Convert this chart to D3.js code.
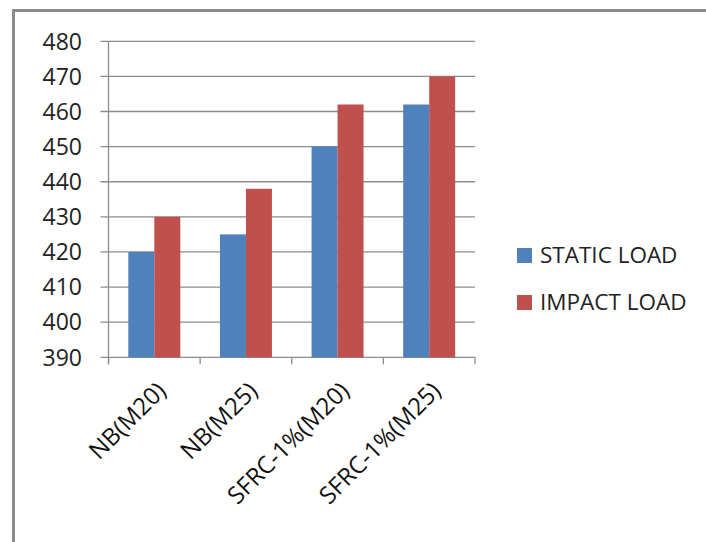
<!DOCTYPE html>
<html><head><meta charset="utf-8">
<script src="https://cdn.jsdelivr.net/npm/d3@7"></script>
<style>body{margin:0;background:#fff}svg{display:block}</style>
</head><body><div id="chart"></div>
<script>
const categories = ["NB(M20)", "NB(M25)", "SFRC-1%(M20)", "SFRC-1%(M25)"];
const seriesNames = ["STATIC LOAD", "IMPACT LOAD"];
const staticLoad = [420, 425, 450, 462];
const impactLoad = [430, 438, 462, 470];
const yTicks = [390, 400, 410, 420, 430, 440, 450, 460, 470, 480];
const colors = ["#4F81BD", "#C0504D"];

(function () {
const W = 706, H = 542;
const svg = d3.select("#chart").append("svg").attr("width", W).attr("height", H);
const font = "'Open Sans', 'Liberation Sans', sans-serif";

// outer border
svg.append("path").attr("d", `M13.5,${H}V10.5H${W}`).attr("fill", "none")
  .attr("stroke", "#8a8a8a").attr("stroke-width", 3);

const pLeft = 108.5, pRight = 475, pTop = 41.3, pBottom = 357.3;
const x = d3.scaleBand().domain(categories).range([pLeft, pRight]).paddingInner(0).paddingOuter(0);
const y = d3.scaleLinear().domain([390, 480]).range([pBottom, pTop]);

// gridlines
svg.append("g").selectAll("line").data(yTicks).join("line")
  .attr("x1", pLeft - 8).attr("x2", pRight)
  .attr("y1", d => y(d)).attr("y2", d => y(d))
  .attr("stroke", "#8c8c8c").attr("stroke-width", 1.3);

// y axis line
svg.append("line").attr("x1", pLeft).attr("x2", pLeft).attr("y1", pTop).attr("y2", pBottom + 7)
  .attr("stroke", "#8c8c8c").attr("stroke-width", 1.3);

// x category ticks
const xTickPos = categories.map(c => x(c)).concat([pRight]);
svg.append("g").selectAll("line").data(xTickPos).join("line")
  .attr("x1", d => d).attr("x2", d => d).attr("y1", pBottom).attr("y2", pBottom + 7)
  .attr("stroke", "#8c8c8c").attr("stroke-width", 1.3);

// y labels
svg.append("g").selectAll("text").data(yTicks).join("text")
  .attr("x", 82).attr("y", d => y(d)).attr("dy", "0.36em")
  .attr("text-anchor", "end").attr("font-family", font).attr("font-size", 23)
  .attr("fill", "#222").text(d => d);

// bars
const bw = x.bandwidth();
const barW = 26;
const inner = d3.scaleBand().domain(seriesNames).range([0, barW * 2]);
const data = categories.map((c, i) => ({c, vals: [staticLoad[i], impactLoad[i]]}));
const g = svg.append("g");
data.forEach(d => {
  d.vals.forEach((v, j) => {
    g.append("rect")
      .attr("x", x(d.c) + (bw - barW * 2) / 2 + inner(seriesNames[j]))
      .attr("y", y(v)).attr("width", inner.bandwidth()).attr("height", y(390) - y(v))
      .attr("fill", colors[j]);
  });
});

// x labels
svg.append("g").selectAll("text").data(categories).join("text")
  .attr("transform", d => `translate(${x(d) + bw / 2 + 7},${pBottom + 29}) rotate(-45)`)
  .attr("text-anchor", "end").attr("font-family", font).attr("font-size", 24)
  .attr("dy", "0.36em").attr("fill", "#111").text(d => d);

// legend
const lg = svg.append("g");
seriesNames.forEach((s, i) => {
  const yy = 255 + i * 47;
  lg.append("rect").attr("x", 517).attr("y", yy - 7).attr("width", 15).attr("height", 15).attr("fill", colors[i]);
  lg.append("text").attr("x", 540).attr("y", yy).attr("dy", "0.36em")
    .attr("font-family", font).attr("font-size", 22.5).attr("fill", "#222").text(s);
});
})();
</script></body></html>
